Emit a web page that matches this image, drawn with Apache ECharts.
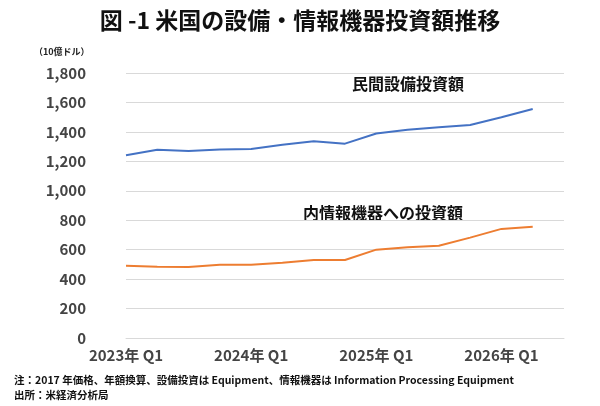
<!DOCTYPE html>
<html><head><meta charset="utf-8">
<script src="https://cdn.jsdelivr.net/npm/echarts@6/dist/echarts.min.js"></script>
<style>html,body{margin:0;padding:0;background:#fff}#c{width:600px;height:406px}</style>
</head><body><div id="c"></div>
<script>
const categories = ['2023年 Q1','2023年 Q2','2023年 Q3','2023年 Q4','2024年 Q1','2024年 Q2','2024年 Q3','2024年 Q4','2025年 Q1','2025年 Q2','2025年 Q3','2025年 Q4','2026年 Q1','2026年 Q2',''];
const privateEquip = [1241,1278,1270,1280,1284,1312,1336,1320,1389,1415,1432,1447,1500,1556,null];
const infoEquip = [491,484,482,498,498,511,530,530,600,616,627,682,741,755,null];
const F = '"Noto Sans CJK JP","Noto Sans",sans-serif';
const chart = echarts.init(document.getElementById('c'));
chart.setOption({
  animation:false,
  textStyle:{fontFamily:F},
  title:{text:'図 -1 米国の設備・情報機器投資額推移',left:'center',top:4,textStyle:{fontFamily:F,fontSize:23,fontWeight:'bold',color:'#111'}},
  grid:{left:126,right:36,top:73,bottom:68},
  xAxis:{type:'category',data:categories,boundaryGap:false,
    axisLine:{lineStyle:{color:'#d9d9d9'}},axisTick:{show:false},
    axisLabel:{interval:3,color:'#444',fontSize:15,fontWeight:'bold',margin:10,fontFamily:F}},
  yAxis:{type:'value',min:0,max:1800,interval:200,
    axisLabel:{color:'#444',fontSize:15,fontWeight:'bold',margin:40,align:'right',
      formatter:v=>v.toLocaleString('en-US')},
    splitLine:{lineStyle:{color:'#d9d9d9'}}},
  series:[
    {type:'line',data:privateEquip,symbol:'none',lineStyle:{color:'#4472c4',width:2},itemStyle:{color:'#4472c4'}},
    {type:'line',data:infoEquip,symbol:'none',lineStyle:{color:'#ed7d31',width:2},itemStyle:{color:'#ed7d31'}}
  ],
  graphic:[
    {type:'text',left:34,top:47,style:{text:'（10億ドル）',fontSize:9,fontWeight:'bold',fill:'#222',fontFamily:F}},
    {type:'text',left:352,top:76,style:{text:'民間設備投資額',fontSize:16,fontWeight:'bold',fill:'#111',fontFamily:F}},
    {type:'text',left:303,top:205,style:{text:'内情報機器への投資額',fontSize:16,fontWeight:'bold',fill:'#111',fontFamily:F}},
    {type:'text',left:14,top:375,style:{text:'注：2017 年価格、年額換算、設備投資は Equipment、情報機器は Information Processing Equipment',fontSize:10.5,fontWeight:'bold',fill:'#111',fontFamily:F}},
    {type:'text',left:14,top:390,style:{text:'出所：米経済分析局',fontSize:10.5,fontWeight:'bold',fill:'#111',fontFamily:F}}
  ]
});
</script></body></html>
